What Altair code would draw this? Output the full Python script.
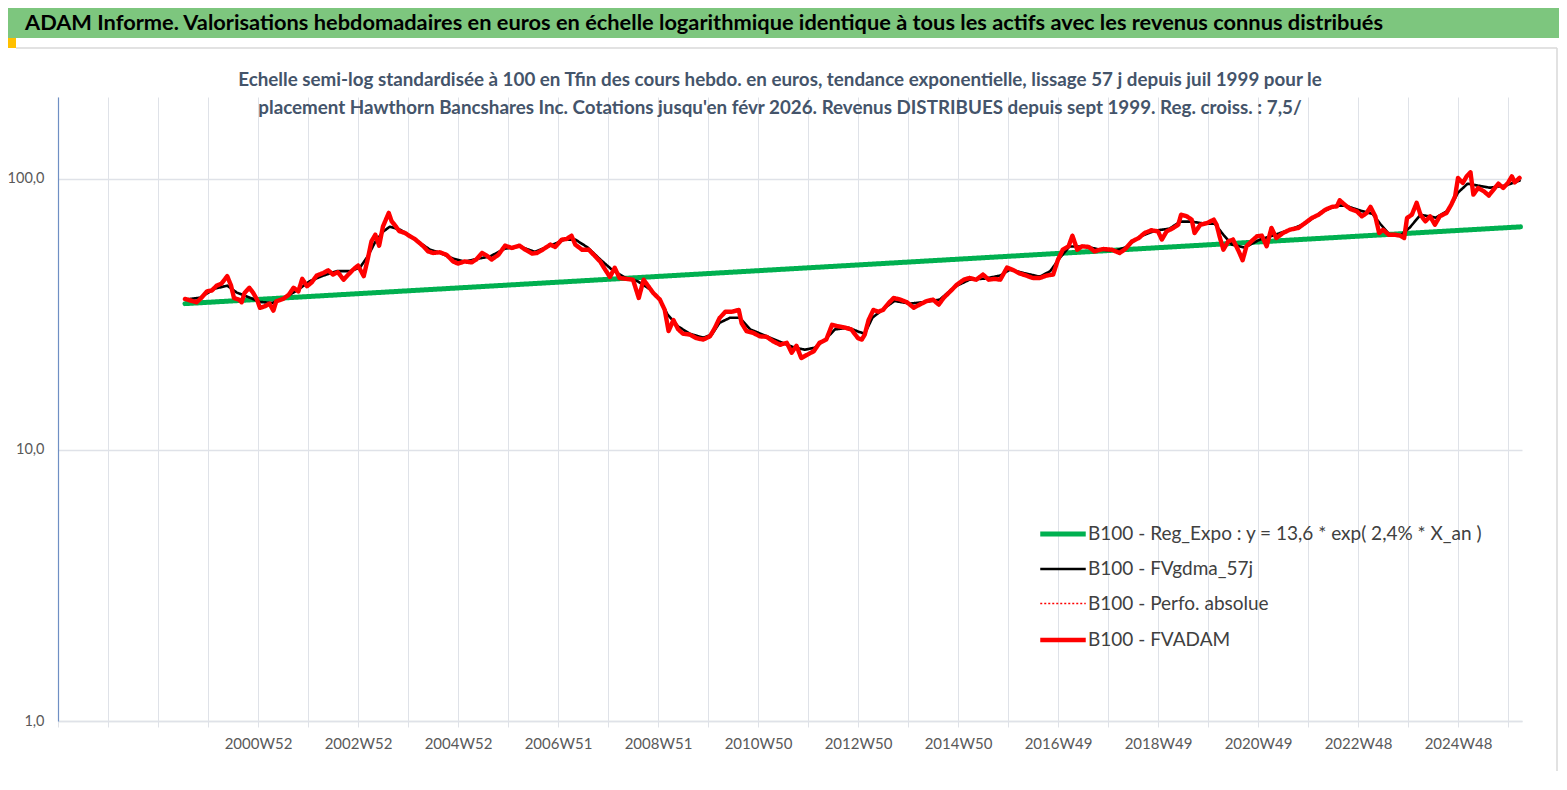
import altair as alt
import pandas as pd

# ---------------- texts ----------------
TITLE = ("ADAM Informe. Valorisations hebdomadaires en euros en échelle logarithmique "
         "identique à tous les actifs avec les revenus connus distribués")
SUBTITLE_1 = ("Echelle semi-log standardisée à 100 en Tfin des cours hebdo. en euros, tendance "
              "exponentielle, lissage 57 j depuis juil 1999 pour le")
SUBTITLE_2 = ("placement Hawthorn Bancshares Inc. Cotations jusqu'en févr 2026. Revenus "
              "DISTRIBUES depuis sept 1999. Reg. croiss. : 7,5/")

SERIES = [
    "B100 - Reg_Expo : y = 13,6 *  exp( 2,4% *  X_an )",
    "B100 - FVgdma_57j",
    "B100 - Perfo. absolue",
    "B100 - FVADAM",
]

# x axis: week index counted from 1996W52 ; one gridline every 52 weeks
X_TICK_WEEKS = [0, 52, 104, 156, 208, 260, 312, 364, 416, 468, 520, 572, 624, 676, 728,
                780, 832, 884, 936, 988, 1040, 1092, 1144, 1196, 1248, 1300, 1352, 1404,
                1456, 1508]
X_LABELS = ["2000W52", "2002W52", "2004W52", "2006W51", "2008W51", "2010W50", "2012W50",
            "2014W50", "2016W49", "2018W49", "2020W49", "2022W48", "2024W48"]
X_FIRST_LABEL_WEEK = 208
X_LABEL_STEP = 104
X_END_WEEK = 1522.56
Y_TICKS = [1, 10, 100]

# ---------------- series ----------------
fvadam_week = [
    132, 137, 144, 149, 155, 160, 165, 170, 176, 180,
    183, 188, 191, 194, 199, 203, 207, 210, 215, 220,
    224, 227, 234, 240, 245, 250, 254, 259, 264, 269,
    276, 281, 286, 291, 297, 302, 307, 312, 318, 322,
    326, 330, 334, 338, 344, 347, 350, 355, 361, 366,
    371, 376, 380, 385, 390, 397, 404, 411, 416, 423,
    430, 435, 441, 446, 451, 458, 465, 472, 480, 486,
    493, 498, 503, 512, 517, 524, 529, 534, 538, 545,
    552, 558, 564, 569, 574, 579, 584, 591, 598, 604,
    609, 614, 619, 626, 631, 635, 640, 645, 650, 657,
    664, 671, 678, 683, 688, 694, 701, 708, 711, 716,
    723, 730, 737, 744, 751, 758, 763, 768, 773, 779,
    786, 792, 799, 805, 810, 817, 825, 832, 836, 839,
    843, 848, 853, 858, 864, 869, 876, 883, 890, 896,
    903, 910, 916, 921, 928, 935, 942, 948, 955, 962,
    968, 974, 980, 987, 994, 1000, 1007, 1014, 1021, 1028,
    1035, 1040, 1045, 1051, 1055, 1060, 1065, 1072, 1078, 1084,
    1087, 1096, 1104, 1110, 1117, 1124, 1130, 1137, 1144, 1148,
    1153, 1160, 1165, 1168, 1174, 1179, 1182, 1188, 1195, 1202,
    1205, 1208, 1212, 1217, 1222, 1228, 1232, 1236, 1241, 1247,
    1252, 1257, 1262, 1267, 1274, 1281, 1290, 1297, 1304, 1311,
    1318, 1325, 1330, 1333, 1338, 1344, 1351, 1356, 1361, 1365,
    1370, 1374, 1378, 1384, 1390, 1396, 1400, 1403, 1408, 1413,
    1417, 1422, 1427, 1432, 1437, 1444, 1449, 1453, 1456, 1461,
    1465, 1469, 1472, 1477, 1483, 1488, 1493, 1498, 1503, 1508,
    1512, 1515, 1520,
]
fvadam_value = [
    36.0, 35.6, 35.0, 36.3, 38.4, 38.7, 40.3, 41.0, 43.7, 40.3,
    36.3, 35.8, 35.0, 37.9, 39.6, 37.9, 35.8, 33.4, 33.8, 34.6,
    32.6, 35.3, 36.0, 37.3, 39.6, 38.4, 42.7, 40.1, 41.5, 43.9,
    44.9, 45.9, 44.3, 45.2, 42.4, 44.3, 46.2, 47.8, 43.7, 50.3,
    58.7, 62.1, 56.6, 66.7, 74.7, 69.6, 67.6, 64.0, 63.0, 61.3,
    59.9, 57.9, 56.3, 53.9, 53.2, 53.5, 52.4, 49.5, 48.6, 49.5,
    49.1, 50.3, 53.2, 52.0, 50.3, 52.4, 56.6, 55.5, 56.6, 54.7,
    52.9, 53.2, 54.4, 57.1, 56.0, 59.6, 59.9, 61.6, 57.1, 54.7,
    54.7, 52.0, 49.4, 46.2, 43.4, 46.9, 43.0, 42.7, 42.4, 36.3,
    42.4, 40.1, 37.9, 35.8, 32.8, 27.4, 30.1, 27.8, 26.8, 26.6,
    25.8, 25.5, 26.2, 28.1, 30.6, 32.3, 32.3, 32.8, 29.3, 27.4,
    27.0, 26.2, 26.1, 25.1, 24.4, 24.8, 22.8, 24.2, 21.8, 22.4,
    23.1, 24.8, 25.5, 28.9, 28.6, 28.3, 27.8, 25.8, 25.5, 26.6,
    30.1, 32.8, 32.3, 32.8, 34.8, 36.3, 35.8, 35.0, 33.4, 34.3,
    35.3, 35.8, 34.3, 36.3, 38.4, 40.7, 42.4, 43.0, 42.4, 44.3,
    42.4, 42.7, 42.4, 47.0, 45.9, 44.7, 43.9, 43.0, 43.0, 43.9,
    44.3, 50.3, 54.7, 56.3, 61.6, 54.7, 56.3, 56.0, 53.9, 54.7,
    55.0, 54.7, 53.2, 55.0, 58.7, 60.4, 63.0, 64.5, 63.9, 59.6,
    63.9, 65.8, 67.6, 73.6, 72.6, 70.6, 63.0, 67.6, 68.6, 70.6,
    67.6, 61.3, 54.7, 58.7, 59.6, 53.9, 50.0, 56.3, 58.7, 61.3,
    61.6, 56.3, 65.8, 60.4, 63.0, 64.8, 65.8, 68.6, 71.6, 73.6,
    76.8, 78.7, 79.0, 83.2, 80.2, 77.3, 75.7, 72.6, 74.7, 78.7,
    72.6, 63.0, 64.8, 62.1, 62.1, 61.6, 60.4, 71.6, 73.6, 81.4,
    73.6, 69.6, 72.6, 67.6, 72.6, 74.7, 80.2, 86.1, 100.6, 96.4,
    102.0, 105.5, 87.3, 92.4, 89.8, 86.6, 91.1, 95.8, 92.4, 96.4,
    102.0, 96.9, 100.6,
]

fvgdma_week = [
    132, 148, 163, 176, 186, 197, 210, 223, 236, 250,
    262, 276, 290, 304, 314, 322, 330, 338, 345, 356,
    366, 376, 387, 397, 411, 423, 437, 449, 465, 480,
    496, 512, 527, 538, 551, 564, 576, 590, 603, 616,
    626, 634, 645, 657, 671, 680, 688, 699, 709, 720,
    735, 751, 766, 777, 787, 798, 808, 822, 832, 839,
    847, 860, 870, 886, 902, 917, 933, 948, 964, 980,
    990, 1006, 1021, 1032, 1042, 1052, 1068, 1084, 1099, 1110,
    1125, 1141, 1156, 1167, 1179, 1193, 1203, 1212, 1221, 1234,
    1250, 1266, 1281, 1297, 1313, 1329, 1339, 1354, 1367, 1375,
    1385, 1396, 1406, 1417, 1433, 1446, 1456, 1466, 1477, 1489,
    1505, 1520,
]
fvgdma_value = [
    35.8, 36.4, 39.3, 40.3, 38.0, 36.7, 35.1, 34.8, 36.4, 39.0,
    41.9, 43.9, 45.6, 45.6, 47.0, 51.6, 58.5, 63.7, 66.5, 64.8,
    61.6, 58.1, 54.7, 53.3, 50.7, 49.4, 50.7, 51.6, 55.2, 56.2,
    53.7, 56.6, 59.6, 59.6, 55.7, 50.3, 46.2, 43.1, 41.8, 39.0,
    35.8, 31.5, 28.5, 26.8, 25.9, 26.6, 29.4, 30.7, 30.7, 27.8,
    26.4, 25.0, 23.8, 23.4, 23.8, 25.5, 27.8, 28.2, 27.3, 26.8,
    30.7, 33.4, 35.4, 34.6, 35.1, 35.8, 40.0, 42.4, 42.8, 43.9,
    46.2, 44.7, 43.5, 45.6, 51.1, 56.2, 56.2, 54.7, 54.2, 55.7,
    61.1, 64.3, 65.4, 69.4, 69.4, 68.2, 68.2, 62.1, 57.1, 55.7,
    59.6, 62.1, 64.8, 68.2, 74.9, 79.5, 79.5, 76.3, 74.2, 68.2,
    62.1, 61.6, 66.1, 73.6, 71.8, 76.3, 88.8, 95.8, 94.2, 92.6,
    94.2, 98.3,
]

reg_week = [132, 1521]
reg_value = [34.6, 66.4]

# ---------------- styles ----------------
COLORS = ["#00B050", "#000000", "#FF0000", "#FF0000"]
DASHES = [[1, 0], [1, 0], [2, 2], [1, 0]]
WIDTHS = [5, 2.6, 1.5, 4.4]
FONT = "Lato"
GRID = "#dfe2e8"

df_reg = pd.DataFrame({"week": reg_week, "value": reg_value, "serie": SERIES[0]})
df_gdma = pd.DataFrame({"week": fvgdma_week, "value": fvgdma_value, "serie": SERIES[1]})
df_adam = pd.DataFrame({"week": fvadam_week, "value": fvadam_value, "serie": SERIES[3]})

labels_js = "[" + ",".join("'" + s + "'" for s in X_LABELS) + "]"
x_label_expr = (
    f"(datum.value >= {X_FIRST_LABEL_WEEK} && (datum.value - {X_FIRST_LABEL_WEEK}) % {X_LABEL_STEP} == 0)"
    f" ? {labels_js}[(datum.value - {X_FIRST_LABEL_WEEK}) / {X_LABEL_STEP}] : ''"
)

x_enc = alt.X(
    "week:Q",
    scale=alt.Scale(domain=[0, X_END_WEEK], nice=False, zero=False),
    axis=alt.Axis(
        values=X_TICK_WEEKS, labelExpr=x_label_expr, title=None, grid=True,
        gridColor=GRID, gridWidth=1, domainColor=GRID, domainWidth=1.5,
        tickColor=GRID, tickSize=6, labelFontSize=15, labelColor="#595959",
        labelFont=FONT, labelPadding=9, labelOverlap=False, labelFlush=False,
    ),
)
y_enc = alt.Y(
    "value:Q",
    scale=alt.Scale(type="log", domain=[1, 200], nice=False),
    axis=alt.Axis(
        values=Y_TICKS, labelExpr="replace(format(datum.value, '.1f'), '.', ',')",
        title=None, grid=True, gridColor=GRID, gridWidth=1.5, domainColor="#6f8fc4",
        domainWidth=1.2, ticks=False, labelFontSize=14.5, labelColor="#595959",
        labelFont=FONT, labelPadding=14,
    ),
)

legend = alt.Legend(
    title=None, orient="none", legendX=985, legendY=417,
    symbolType="M-1.3,0H1.3", symbolSize=1225, symbolFillColor="transparent",
    labelFontSize=19, labelFont=FONT, labelColor="#404040", labelOffset=5,
    rowPadding=6, padding=0, labelLimit=600,
)
color = alt.Color("serie:N", scale=alt.Scale(domain=SERIES, range=COLORS), legend=legend)
dash = alt.StrokeDash("serie:N", scale=alt.Scale(domain=SERIES, range=DASHES), legend=legend)
width = alt.StrokeWidth("serie:N", scale=alt.Scale(type="ordinal", domain=SERIES, range=WIDTHS),
                        legend=legend)


def line(df):
    return alt.Chart(df).mark_line(strokeJoin="round", strokeCap="round").encode(
        x=x_enc, y=y_enc, color=color, strokeDash=dash, strokeWidth=width
    )


dummy = pd.DataFrame({"k": [0]})
deco = alt.Chart(dummy)

header = deco.mark_rect(color="#7dc67e").encode(
    x=alt.value(-50), x2=alt.value(1501), y=alt.value(-89), y2=alt.value(-59))
corner = deco.mark_rect(color="#FFC000").encode(
    x=alt.value(-50), x2=alt.value(-42), y=alt.value(-59), y2=alt.value(-49))
top_border = deco.mark_rule(color="#d9d9d9", strokeWidth=1.5).encode(
    x=alt.value(-42), x2=alt.value(1499), y=alt.value(-49))
right_border = deco.mark_rule(color="#d9d9d9", strokeWidth=1.5).encode(
    x=alt.value(1499), y=alt.value(-49), y2=alt.value(674))
title_txt = deco.mark_text(
    text=TITLE, align="left", baseline="middle", font=FONT, fontSize=21.8,
    fontWeight="bold", color="#000000").encode(x=alt.value(-33), y=alt.value(-74))
sub1 = deco.mark_text(
    text=SUBTITLE_1, align="center", baseline="middle", font=FONT, fontSize=18.8,
    fontWeight="bold", color="#44546A").encode(x=alt.value(722), y=alt.value(-17))
sub2 = deco.mark_text(
    text=SUBTITLE_2, align="center", baseline="middle", font=FONT, fontSize=18.8,
    fontWeight="bold", color="#44546A").encode(x=alt.value(722), y=alt.value(11))

chart = alt.layer(
    header, corner, top_border, right_border, title_txt, sub1, sub2,
    line(df_reg), line(df_gdma), line(df_adam),
).properties(
    width=1464, height=624,
    autosize=alt.AutoSizeParams(type="none"),
    padding={"left": 50, "top": 89, "right": 37, "bottom": 58},
    background="white",
).configure_view(stroke=None)

chart.save("out.html", embed_options={"renderer": "svg", "actions": False})
